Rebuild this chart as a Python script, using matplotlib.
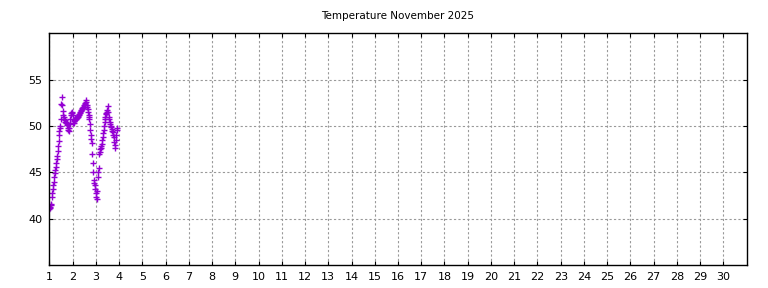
import matplotlib
matplotlib.use("Agg")
import matplotlib.pyplot as plt
import numpy as np

# lecturas cada 30 minutos desde el 1 de noviembre 00:00
temp = [
    41.0, 41.1, 41.3, 41.5, 41.6, 42.3, 42.8, 43.2, 43.6, 44.0,
    44.5, 44.9, 45.3, 45.6, 46.0, 46.4, 46.8, 47.3, 47.8, 48.4,
    49.0, 49.5, 49.8, 50.0, 50.8, 52.4, 53.1, 52.3, 51.6, 51.2,
    51.0, 50.7, 50.6, 50.4, 50.4, 50.3, 50.3, 50.1, 49.8, 49.6,
    49.5, 49.8, 50.2, 50.8, 51.2, 51.4, 51.5, 51.4, 51.2, 50.3,
    50.3, 50.5, 50.6, 50.7, 50.7, 50.8, 50.9, 50.9, 51.0, 51.1,
    51.0, 51.2, 51.3, 51.4, 51.5, 51.6, 51.7, 51.8, 51.9, 51.9,
    52.0, 52.1, 52.3, 52.4, 52.5, 52.6, 52.8, 52.3, 52.0, 51.8,
    51.5, 51.2, 51.0, 50.7, 50.2, 49.6, 49.0, 48.6, 48.2, 47.0,
    46.0, 45.0, 44.2, 43.9, 43.6, 43.2, 42.8, 42.3, 42.1, 43.0,
    44.5, 45.0, 45.5, 47.0, 47.2, 47.5, 47.6, 47.8, 48.1, 48.5,
    48.8, 49.2, 49.6, 50.0, 50.4, 50.8, 51.0, 51.3, 51.4, 51.5,
    51.7, 52.2, 51.5, 51.0, 50.7, 50.4, 50.2, 50.0, 49.9, 49.7,
    49.5, 49.3, 49.0, 48.8, 48.3, 47.6, 48.0, 48.5, 49.0, 49.6,
    49.8,
]
dia = 1 + np.arange(len(temp)) / 48.0
dias_ticks = list(range(1, 31))
temp_ticks = [40, 45, 50, 55]

fig = plt.figure(figsize=(7.68, 2.88), dpi=100)
ax = fig.add_axes([49.3 / 768, 1 - 265 / 288, (746.7 - 49.3) / 768, (265 - 33.3) / 288])

ax.plot(dia, temp, linestyle='none', marker='+', markersize=4.5, markeredgewidth=1.0,
        color='#9400d3')

ax.set_xlim(1, 31)
ax.set_ylim(35, 60)
ax.set_xticks(dias_ticks)
ax.set_yticks(temp_ticks)
ax.tick_params(direction='in', length=3, width=0.8, labelsize=8, pad=5,
               top=True, right=True)
ax.grid(True, color='#999999', linestyle=(0, (2, 2)), linewidth=0.8)
for s in ax.spines.values():
    s.set_linewidth(1.0)

fig.text(398 / 768, 1 - 16 / 288, 'Temperature November 2025', ha='center', va='center',
         fontsize=7.5)

fig.savefig('out.png', dpi=100)
